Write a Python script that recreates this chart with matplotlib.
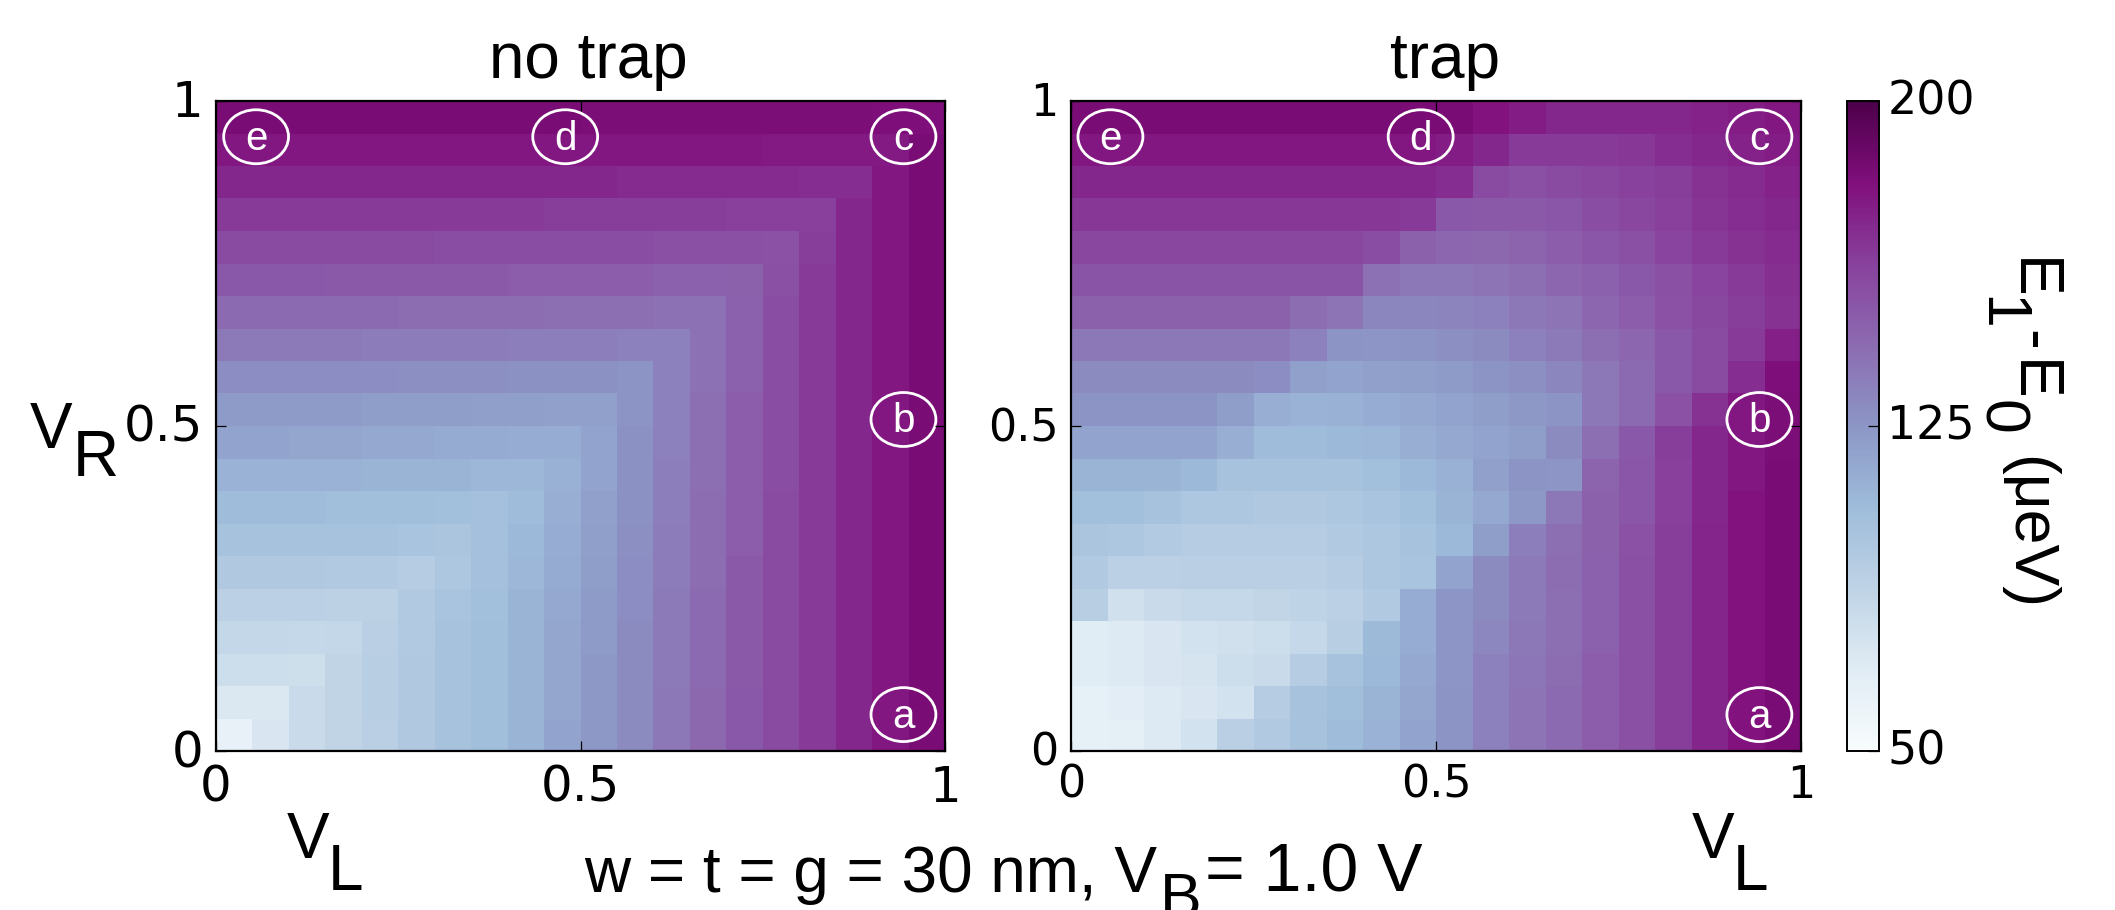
"""E1-E0 maps, no trap vs trap."""

import matplotlib
matplotlib.use("Agg")
import matplotlib.pyplot as plt
import numpy as np
from matplotlib.patches import Ellipse
from matplotlib.transforms import ScaledTranslation

W, H = 2115, 910
SANS = "Liberation Sans"

# rows run bottom (VR = 0) to top (VR = 1), columns VL = 0 to 1, values in ueV
no_trap = [
    [63, 73, 82, 87, 91, 96, 101, 105, 110, 118, 124, 130, 138, 145, 152, 158, 165, 172, 178, 184],
    [72, 72, 82, 87, 92, 96, 102, 105, 110, 117, 124, 130, 138, 145, 152, 158, 165, 172, 178, 184],
    [80, 80, 79, 87, 92, 96, 101, 105, 110, 117, 124, 130, 137, 144, 151, 158, 165, 172, 178, 184],
    [85, 85, 84, 85, 91, 95, 101, 105, 110, 117, 123, 130, 137, 144, 151, 158, 165, 172, 178, 184],
    [90, 90, 90, 89, 89, 95, 100, 104, 110, 116, 123, 129, 137, 144, 151, 158, 165, 172, 178, 184],
    [96, 96, 96, 95, 95, 93, 98, 103, 109, 115, 122, 129, 136, 143, 151, 158, 165, 172, 178, 184],
    [102, 102, 102, 101, 101, 100, 99, 103, 108, 114, 121, 128, 136, 143, 150, 158, 165, 172, 178, 184],
    [106, 106, 106, 105, 105, 105, 104, 103, 106, 113, 120, 127, 135, 143, 150, 158, 165, 172, 178, 184],
    [111, 111, 111, 111, 110, 110, 110, 109, 109, 112, 119, 127, 135, 142, 150, 157, 165, 172, 178, 184],
    [118, 118, 117, 117, 116, 116, 115, 115, 114, 114, 119, 127, 134, 142, 150, 157, 165, 172, 178, 184],
    [123, 123, 123, 123, 122, 122, 122, 121, 121, 120, 120, 126, 134, 142, 150, 157, 165, 172, 178, 184],
    [129, 129, 129, 129, 129, 128, 128, 128, 127, 127, 127, 126, 134, 141, 149, 157, 165, 172, 178, 184],
    [137, 137, 137, 137, 136, 136, 136, 136, 135, 135, 135, 134, 134, 141, 149, 157, 165, 172, 178, 184],
    [144, 144, 144, 144, 144, 143, 143, 143, 143, 142, 142, 142, 141, 141, 149, 157, 165, 172, 178, 184],
    [152, 152, 152, 151, 151, 151, 151, 151, 150, 150, 150, 150, 149, 149, 148, 156, 165, 172, 178, 184],
    [158, 158, 158, 158, 158, 158, 157, 157, 157, 157, 157, 157, 156, 156, 156, 155, 164, 172, 178, 184],
    [165, 165, 165, 165, 165, 165, 165, 165, 165, 164, 164, 164, 164, 164, 163, 163, 163, 172, 178, 184],
    [172, 172, 172, 172, 172, 172, 172, 172, 172, 172, 172, 171, 171, 171, 171, 171, 170, 170, 178, 184],
    [178, 178, 178, 178, 178, 178, 178, 178, 178, 178, 178, 178, 178, 178, 178, 177, 177, 177, 177, 184],
    [184, 184, 184, 184, 184, 184, 184, 184, 184, 184, 183, 183, 183, 183, 183, 183, 183, 183, 182, 182],
]

trap = [
    [64, 65, 70, 76, 91, 95, 101, 106, 111, 118, 126, 134, 140, 144, 150, 156, 164, 173, 180, 184],
    [64, 67, 70, 73, 76, 93, 101, 105, 110, 117, 126, 134, 140, 144, 150, 156, 164, 173, 180, 184],
    [68, 70, 73, 75, 80, 82, 93, 102, 108, 116, 125, 134, 139, 143, 150, 156, 164, 173, 180, 184],
    [68, 70, 73, 76, 78, 80, 84, 92, 107, 114, 125, 131, 138, 142, 149, 156, 164, 173, 180, 184],
    [92, 78, 82, 84, 84, 86, 88, 90, 95, 114, 125, 130, 137, 142, 149, 156, 164, 173, 180, 184],
    [95, 90, 90, 91, 91, 91, 91, 93, 97, 100, 118, 130, 137, 143, 149, 156, 164, 173, 180, 184],
    [99, 98, 94, 93, 93, 93, 93, 95, 98, 102, 108, 122, 135, 142, 148, 155, 164, 173, 180, 184],
    [104, 104, 102, 97, 97, 96, 96, 97, 100, 104, 110, 116, 124, 138, 148, 153, 163, 172, 180, 184],
    [110, 110, 110, 108, 101, 101, 101, 102, 104, 108, 112, 120, 126, 125, 147, 153, 163, 172, 178, 184],
    [118, 118, 118, 118, 113, 106, 106, 108, 109, 113, 116, 119, 122, 130, 142, 152, 164, 172, 178, 183],
    [126, 126, 126, 126, 122, 113, 111, 112, 114, 116, 119, 122, 124, 126, 138, 144, 155, 168, 178, 183],
    [130, 130, 130, 130, 130, 129, 120, 118, 120, 121, 123, 126, 128, 132, 138, 144, 152, 158, 170, 182],
    [138, 138, 138, 138, 138, 138, 134, 126, 125, 126, 128, 130, 134, 137, 142, 146, 152, 158, 165, 175],
    [148, 148, 148, 148, 148, 148, 143, 140, 132, 132, 133, 134, 138, 140, 146, 150, 155, 159, 164, 168],
    [154, 154, 154, 154, 154, 154, 154, 154, 141, 138, 138, 140, 142, 146, 149, 152, 156, 161, 165, 169],
    [160, 160, 160, 160, 160, 160, 160, 160, 157, 148, 146, 145, 147, 150, 153, 156, 161, 165, 168, 171],
    [166, 166, 166, 166, 166, 166, 166, 166, 166, 165, 152, 151, 151, 153, 157, 160, 163, 167, 170, 172],
    [172, 172, 172, 172, 172, 172, 172, 172, 172, 172, 170, 158, 156, 158, 160, 162, 164, 168, 171, 174],
    [178, 178, 178, 178, 178, 178, 178, 178, 178, 178, 176, 172, 165, 165, 165, 166, 170, 172, 174, 176],
    [184, 184, 184, 184, 184, 184, 184, 184, 184, 184, 184, 180, 176, 172, 172, 172, 172, 174, 176, 178],
]

edges = np.linspace(0, 1, 21)
ticks = [0, 0.5, 1]
tick_labels = ["0", "0.5", "1"]
cbar_ticks = [50, 125, 200]
cbar_labels = ["50", "125", "200"]
marks_left = {"a": (0.943, 0.056), "b": (0.943, 0.51), "c": (0.943, 0.945), "d": (0.479, 0.945), "e": (0.055, 0.945)}
marks_right = {"a": (0.943, 0.056), "b": (0.943, 0.51), "c": (0.943, 0.945), "d": (0.479, 0.945), "e": (0.054, 0.945)}


def px_axes(fig, x0, y0, x1, y1):
    return fig.add_axes([x0 / W, 1 - y1 / H, (x1 - x0) / W, (y1 - y0) / H])


def px_text(fig, x, y, s, size, **kw):
    kw.setdefault("family", SANS)
    fig.text(x / W, 1 - y / H, s, fontsize=size, color="black", **kw)


def raise_labels(fig, ax, dy):
    # the reference has its y labels a little above the tick
    shift = ScaledTranslation(0, dy / 100, fig.dpi_scale_trans)
    for lab in ax.get_yticklabels():
        lab.set_transform(lab.get_transform() + shift)


def draw_panel(ax, values, marks, tick_size):
    mesh = ax.pcolormesh(edges, edges, np.array(values), cmap="BuPu", vmin=50, vmax=200, linewidth=0, rasterized=True)
    ax.set_xlim(0, 1)
    ax.set_ylim(0, 1)
    ax.set_xticks(ticks, tick_labels)
    ax.set_yticks(ticks, tick_labels)
    ax.tick_params(direction="in", length=7, width=0.9, top=True, right=True, labelsize=tick_size, pad=9)
    for spine in ax.spines.values():
        spine.set_linewidth(1.6)
    for name, (x, y) in marks.items():
        ax.add_patch(Ellipse((x, y), 0.089, 0.083, fill=False, edgecolor="white", linewidth=2, transform=ax.transAxes))
        ax.text(x, y - 0.003, name, color="white", fontsize=29, family=SANS, ha="center", va="center", transform=ax.transAxes)
    return mesh


def main():
    fig = plt.figure(figsize=(W / 100, H / 100), dpi=100)

    ax_left = px_axes(fig, 216, 101, 945, 751)
    ax_right = px_axes(fig, 1071, 101, 1801, 751)
    mesh = draw_panel(ax_left, no_trap, marks_left, 36)
    draw_panel(ax_right, trap, marks_right, 32)

    cax = px_axes(fig, 1847, 101, 1879, 751)
    cbar = fig.colorbar(mesh, cax=cax)
    cbar.set_ticks(cbar_ticks, labels=cbar_labels)
    cbar.ax.tick_params(direction="in", length=8, width=0.9, labelsize=33, pad=6)
    cbar.outline.set_linewidth(1.4)

    raise_labels(fig, ax_left, 3)
    raise_labels(fig, ax_right, 2)
    raise_labels(fig, cbar.ax, 4)

    px_text(fig, 588, 78, "no trap", 46, va="baseline", ha="center")
    px_text(fig, 1445, 78, "trap", 46, va="baseline", ha="center")

    # axis labels are separate pieces, the subscripts are nearly full size here
    px_text(fig, 30, 448, "V", 46, va="baseline")
    px_text(fig, 73, 476, "R", 46, va="baseline")
    px_text(fig, 287, 858, "V", 46, va="baseline")
    px_text(fig, 328, 890, "L", 46, va="baseline")
    px_text(fig, 1692, 858, "V", 46, va="baseline")
    px_text(fig, 1733, 890, "L", 46, va="baseline")

    px_text(fig, 584, 892, "w = t = g = 30 nm, V", 46, va="baseline")
    px_text(fig, 1160, 917, "B", 45, va="baseline")
    px_text(fig, 1205, 892, "= 1.0 V", 49, va="baseline")

    px_text(fig, 2002, 258, "E", 45, rotation=270, va="top", ha="left")
    px_text(fig, 1970, 296, "1", 45, rotation=270, va="top", ha="left")
    px_text(fig, 2002, 330, "-", 45, rotation=270, va="top", ha="left")
    px_text(fig, 2002, 360, "E", 45, rotation=270, va="top", ha="left")
    px_text(fig, 1970, 400, "0", 45, rotation=270, va="top", ha="left")
    px_text(fig, 1998, 456, "(\u03bceV)", 45, rotation=270, va="top", ha="left")

    fig.savefig("out.png", dpi=100)
    plt.close(fig)


if __name__ == "__main__":
    main()
